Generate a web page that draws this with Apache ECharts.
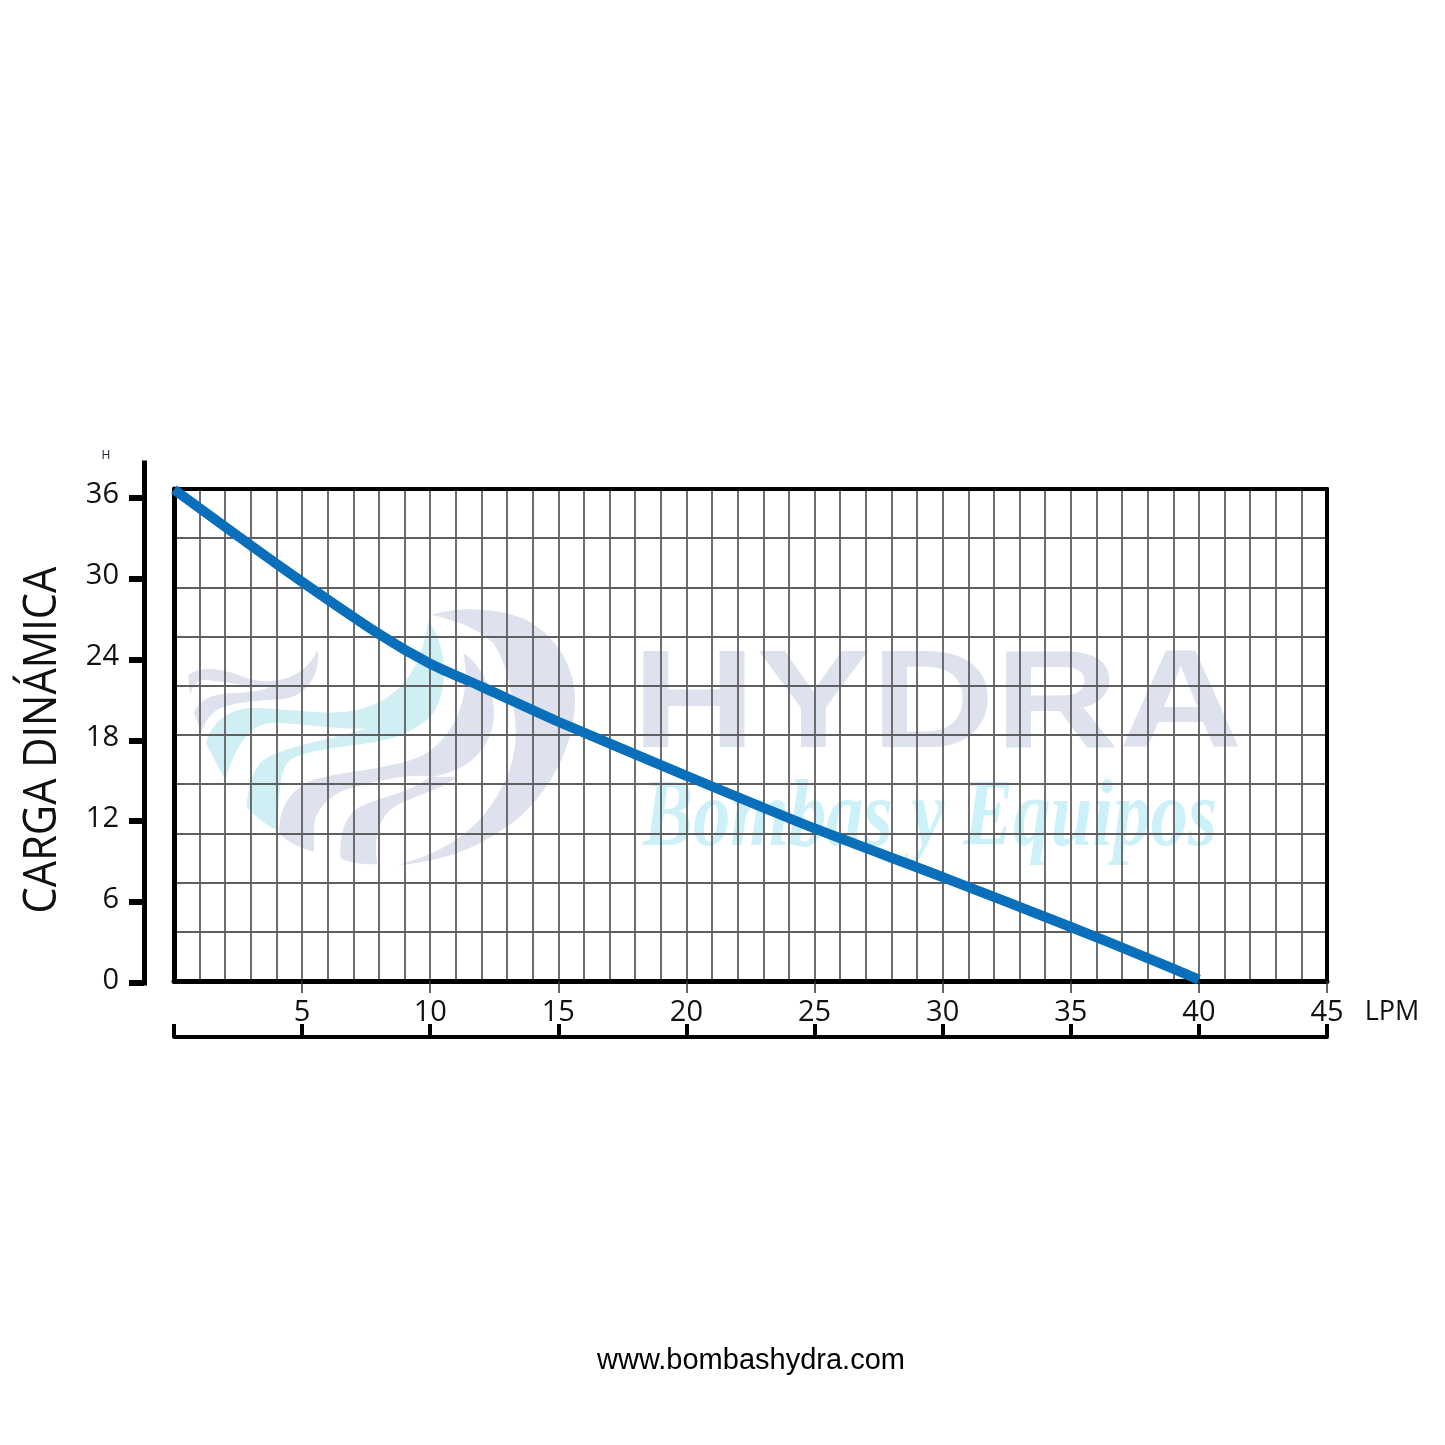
<!DOCTYPE html>
<html><head><meta charset="utf-8">
<style>html,body{margin:0;padding:0;background:#fff}#c{width:1445px;height:1445px}</style>
<script src="https://cdn.jsdelivr.net/npm/echarts@6/dist/echarts.min.js"></script>
</head><body><div id="c"></div>
<script>
const flowLpm = [0,4,8,10,12,15,20,25,30,35,38,40];
const headM   = [36.4,30.9,25.7,23.5,21.8,19.2,15.2,11.3,7.7,4.0,1.7,0.1];
const xTicks = [5,10,15,20,25,30,35,40,45];
const yTicks = [0,6,12,18,24,30,36];
const xBracketTicks = [0].concat(xTicks);
const yTitle = 'CARGA DINÁMICA';
const yUnit = 'H';
const xUnit = 'LPM';
const website = 'www.bombashydra.com';
const brand = 'HYDRA';
const tagline = 'Bombas y Equipos';

const pxPerM = 13.48;
const F = '"Open Sans"';
const DARK = '#dde2ee', LIGHT = '#d0eff4';
const logoPaths = [
 [LIGHT,'M745,60 C800,140 810,260 760,340 C710,395 640,420 560,430 C470,445 380,450 330,480 C300,510 300,560 290,690 C250,670 215,640 200,620 C205,560 215,510 250,480 C310,440 430,425 560,385 C470,390 380,370 280,368 C210,370 170,430 135,540 L78,430 C90,380 130,335 200,325 C290,320 400,345 500,335 C610,320 720,260 745,60 Z'],
 [DARK,'M25,225 C70,195 130,205 200,235 C270,255 370,245 412,150 C425,210 385,295 300,298 C240,302 170,305 120,325 C90,340 75,365 65,395 L42,340 C55,300 100,282 150,280 C190,278 240,275 270,262 C200,262 130,240 60,240 C45,245 35,270 30,285 Z'],
 [DARK,'M850,160 C900,190 942,270 942,340 C940,430 880,510 760,530 C690,520 600,540 530,560 C470,570 420,610 405,660 C400,690 402,720 402,755 C360,745 320,725 298,700 C295,640 320,570 400,540 C500,510 620,510 720,470 C810,430 880,300 850,160 Z'],
 [DARK,'M750,530 C690,580 600,590 540,620 C490,650 478,710 482,775 C510,790 560,795 592,792 C582,730 590,670 630,630 C680,590 790,570 830,530 Z'],
 [DARK,'M755,45 C830,20 950,20 1040,60 C1130,110 1185,200 1185,300 C1185,450 1090,620 950,700 C860,760 750,790 650,795 C750,770 860,720 930,620 C1000,520 1020,430 1000,320 C990,250 980,190 940,130 C900,90 830,60 755,45 Z']
];
logoPaths.forEach((p,i) => echarts.graphic.registerShape('logo'+i, echarts.graphic.extendPath(p[1], {})));
const graphics = logoPaths.map((p,i) => ({
  type:'logo'+i, x:180, y:600, scaleX:1/3, scaleY:1/3, z:-1, silent:true,
  style:{fill:p[0]}
}));
graphics.push(
 {type:'text', x:632, y:638, scaleX:1.227, z:-1, silent:true,
  style:{text:brand, fill:DARK, font:'bold 140px "Liberation Sans"', textAlign:'left', textVerticalAlign:'top'}},
 {type:'text', x:643, y:772, scaleX:0.78, z:-1, silent:true,
  style:{text:tagline, fill:'#cdf1f8', font:'italic bold 96px "Liberation Serif"', textAlign:'left', textVerticalAlign:'top'}},
 {type:'text', x:43, y:740, rotation:Math.PI/2, scaleX:0.905, z:5, silent:true,
  style:{text:yTitle, fill:'#111', font:'46px '+F, textAlign:'center', textVerticalAlign:'middle'}},
 {type:'text', x:106, y:456, z:5, silent:true,
  style:{text:yUnit, fill:'#223', font:'12px '+F, textAlign:'center', textVerticalAlign:'middle'}},
 {type:'text', x:1392, y:1012, z:5, silent:true,
  style:{text:xUnit, fill:'#111', font:'27px '+F, textAlign:'center', textVerticalAlign:'middle'}},
 {type:'text', x:751, y:1361, z:5, silent:true,
  style:{text:website, fill:'#000', font:'29px "Liberation Sans"', textAlign:'center', textVerticalAlign:'middle'}}
);
const GRID = '#5f5f5f';
const blank = {show:false};
const option = {
  animation:false, backgroundColor:'#fff',
  grid:[
    {left:174, top:489, width:1153, height:492, containLabel:false},
    {left:144, top:463, width:1153, height:520, containLabel:false}
  ],
  graphic:graphics,
  xAxis:[
    {gridIndex:0, type:'value', position:'top', min:0, max:45, interval:1,
     axisLine:{show:true,onZero:false,lineStyle:{color:'#000',width:4}},
     axisTick:blank, axisLabel:blank,
     splitLine:{show:true,showMinLine:false,showMaxLine:false,lineStyle:{color:GRID,width:1.8}}},
    {gridIndex:0, type:'value', position:'bottom', min:0, max:45,
     axisLine:{show:true,onZero:false,lineStyle:{color:'#000',width:5}},
     axisTick:{show:true,length:12,lineStyle:{color:'#333',width:1.5},customValues:xTicks},
     axisLabel:blank, splitLine:blank},
    {gridIndex:0, type:'value', position:'bottom', offset:56, min:0, max:45,
     axisLine:{show:true,onZero:false,lineStyle:{color:'#000',width:4}},
     axisTick:{show:true,inside:true,length:13,lineStyle:{color:'#000',width:4},customValues:xBracketTicks},
     axisLabel:{show:true,inside:true,margin:10,color:'#111',fontFamily:F,fontSize:29,customValues:xTicks,hideOverlap:false,showMaxLabel:true},
     splitLine:blank},
    {gridIndex:1, type:'value', min:0, max:45, show:false}
  ],
  yAxis:[
    {gridIndex:0, type:'value', position:'left', min:0, max:36.44, interval:3.644,
     axisLine:{show:true,onZero:false,lineStyle:{color:'#000',width:5}},
     axisTick:blank, axisLabel:blank,
     splitLine:{show:true,showMinLine:false,showMaxLine:false,lineStyle:{color:GRID,width:1.8}}},
    {gridIndex:0, type:'value', position:'right', min:0, max:36.44,
     axisLine:{show:true,onZero:false,lineStyle:{color:'#000',width:4}},
     axisTick:blank, axisLabel:blank, splitLine:blank},
    {gridIndex:1, type:'value', position:'left', min:0, max:520/pxPerM,
     axisLine:{show:true,onZero:false,lineStyle:{color:'#000',width:5,cap:'square'}},
     axisTick:{show:true,length:15,lineStyle:{color:'#000',width:6},customValues:yTicks},
     axisLabel:{show:true,margin:25,color:'#111',fontFamily:F,fontSize:29,customValues:yTicks,verticalAlign:'bottom',lineHeight:5},
     splitLine:blank}
  ],
  series:[{
    type:'line', xAxisIndex:0, yAxisIndex:0, clip:false, z:10,
    data:flowLpm.map((f,i)=>[f,headM[i]]),
    showSymbol:false, smooth:0.25,
    lineStyle:{color:'#0a6fba',width:10}
  }]
};
echarts.init(document.getElementById('c'),null,{renderer:'canvas'}).setOption(option);
</script>
</body></html>
